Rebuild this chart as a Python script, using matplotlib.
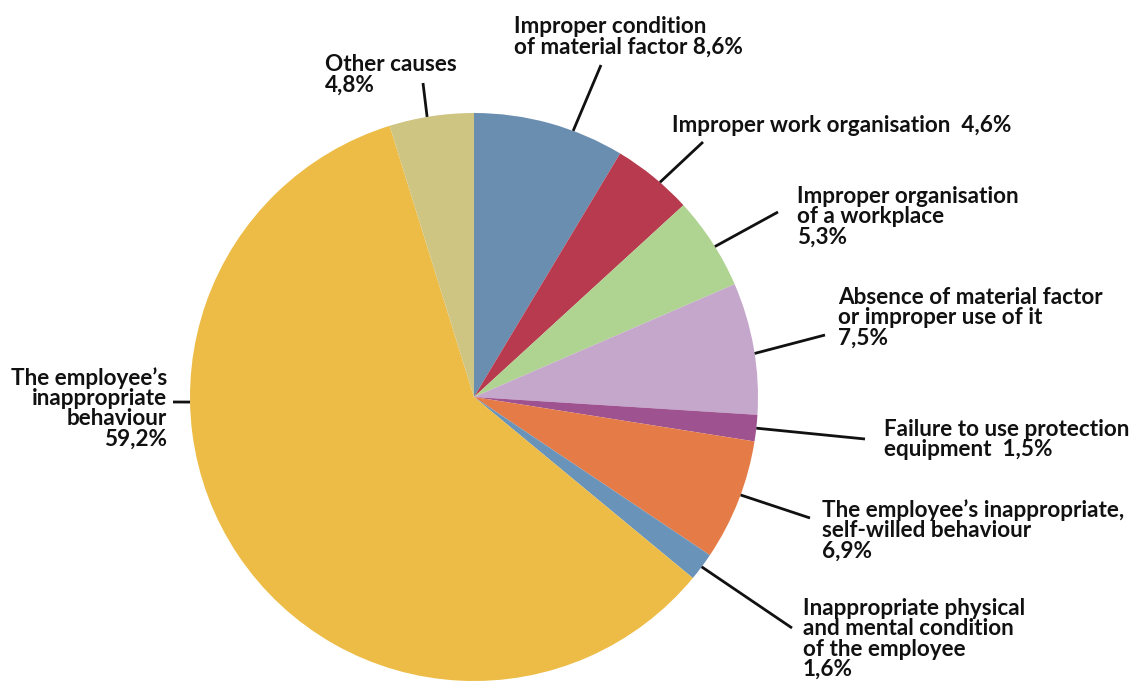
import numpy as np
import matplotlib
matplotlib.use("Agg")
import matplotlib.pyplot as plt

# ---- data ----
categories = [
    "Improper condition\nof material factor 8,6%",
    "Improper work organisation  4,6%",
    "Improper organisation\nof a workplace\n5,3%",
    "Absence of material factor\nor improper use of it\n7,5%",
    "Failure to use protection\nequipment  1,5%",
    "The employee\u2019s inappropriate,\nself-willed behaviour\n6,9%",
    "Inappropriate physical\nand mental condition\nof the employee\n1,6%",
    "The employee\u2019s\ninappropriate\nbehaviour\n59,2%",
    "Other causes\n4,8%",
]
values = [8.6, 4.6, 5.3, 7.5, 1.5, 6.9, 1.6, 59.2, 4.8]
colors = ["#6A8EAF", "#B83A4F", "#AFD391", "#C4A7CB", "#9E5390",
          "#E57B46", "#6A93BA", "#EDBC47", "#CFC583"]

# ---- layout (pixels, y measured from top) ----
W, H = 1133, 681
cx, cy, R = 474, 397, 284
# label text anchor (x, top y, ha), leader outer end (x, y), fraction along wedge
text_pos = [(514, 16, "left"), (672, 115, "left"), (797, 186, "left"),
            (838, 287, "left"), (884, 419, "left"), (822, 499, "left"),
            (803, 598, "left"), (167, 367, "right"), (325, 54, "left")]
line_end = [(601, 65), (703, 142), (778, 212), (825, 335), (865, 439),
            (810, 518), (792, 628), (173, 402), (423, 83)]
frac = [0.66, 0.6, 0.55, 0.54, 0.5, 0.45, 0.5, 0.654, 0.45]

font = ["Lato", "DejaVu Sans"]

fig = plt.figure(figsize=(W / 100, H / 100), dpi=100)
ax = fig.add_axes([0, 0, 1, 1])
wedges, _ = ax.pie(values, colors=colors, startangle=90, counterclock=False,
                   center=(cx, H - cy), radius=R,
                   wedgeprops=dict(linewidth=0))
ax.set_xlim(0, W)
ax.set_ylim(0, H)
ax.set_aspect("equal")
ax.axis("off")

for w, lab, (tx, ty, ha), (ex, ey), f in zip(wedges, categories, text_pos, line_end, frac):
    t1, t2 = w.theta1, w.theta2
    ang = np.deg2rad(t2 - f * (t2 - t1))
    px = cx + R * np.cos(ang)
    py = (H - cy) + R * np.sin(ang)
    ax.plot([px, ex], [py, H - ey], color="#111111", lw=2.0,
            solid_capstyle="butt")
    ax.text(tx, H - ty, lab, ha=ha, va="top", family=font, weight="bold",
            fontsize=16.2, color="#111111", linespacing=0.96,
            multialignment=ha)

fig.savefig("out.png", dpi=100)
